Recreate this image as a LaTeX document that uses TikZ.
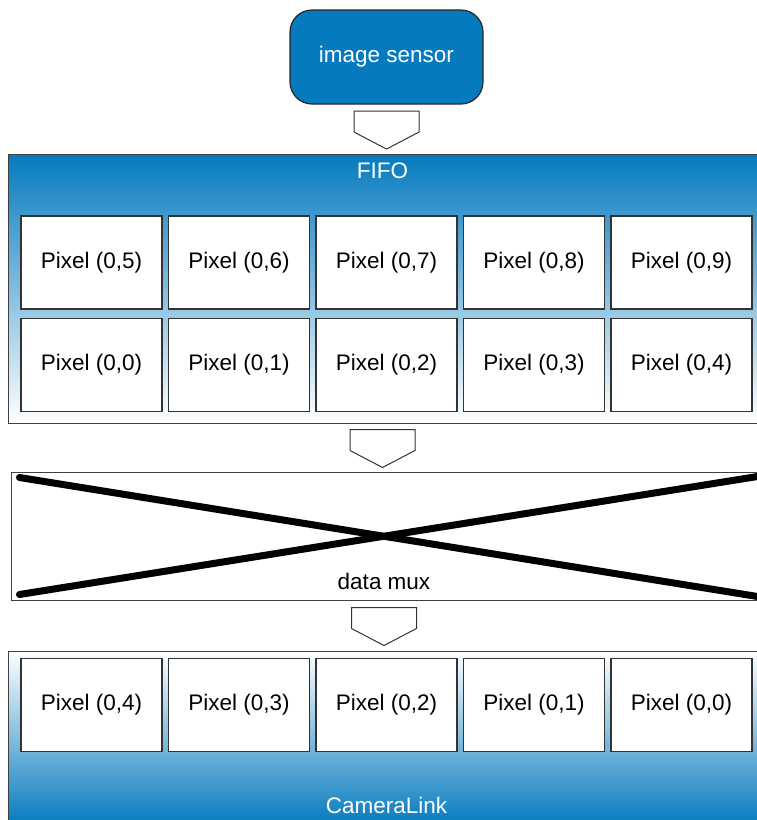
\documentclass[tikz,border=0pt]{standalone}
\usepackage{fontspec}
\setmainfont{Liberation Sans}
\usetikzlibrary{positioning, calc}
\definecolor{sensorblue}{RGB}{5,122,190}
\tikzset{sensor/.style={draw=black!85, line width=1.2pt, fill=sensorblue, rounded corners=22pt,
             minimum width=193pt, minimum height=94pt, text=white},
         stage/.style={draw=black!75, line width=1pt, inner sep=0pt},
         pixel/.style={draw=black!80, line width=1.3pt, fill=white, inner sep=0pt,
             minimum width=141pt, minimum height=93pt},
         label/.style={inner sep=0pt},
         muxline/.style={line width=7pt, line cap=round},
         feed/.pic={\draw[draw=black!80, line width=1pt, fill=white]
             (-32.5,-18) -- (32.5,-18) -- (32.5,3) -- (0,20) -- (-32.5,3) -- cycle;}}
\begin{document}
\begin{tikzpicture}[x=1pt, y=-1pt, font=\fontsize{22.5}{26}\selectfont]
    \useasboundingbox (0,0) rectangle (757,820);

    % source
    \node[sensor] (sensor) at (386.5,57) {image sensor};

    % FIFO buffer
    \node[stage, top color=sensorblue, bottom color=white, minimum width=749pt, minimum height=269pt]
        (fifo) at (382.5,288.5) {};
    \node[label, text=white] (fifolabel) at ([yshift=-17pt]fifo.north) {FIFO};
    \foreach \i in {0,...,4} {
        \pgfmathtruncatemacro{\hi}{\i+5}
        \node[pixel] (top\i) at (91.5+147.5*\i,262.5) {Pixel (0,\hi)};
        \node[pixel] (bot\i) at (91.5+147.5*\i,365) {Pixel (0,\i)};
    }

    % multiplexer
    \node[stage, fill=white, minimum width=746pt, minimum height=128pt] (mux) at (384,536) {};
    \draw[muxline] ([shift={(9pt,-6pt)}]mux.north west) -- ([yshift=4pt]mux.south east);
    \draw[muxline] ([shift={(9pt,6pt)}]mux.south west) -- ([yshift=-5pt]mux.north east);
    \node[label] (muxlabel) at ([yshift=19pt]mux.south) {data mux};

    % output
    \node[stage, top color=white, bottom color=sensorblue, minimum width=749pt, minimum height=174pt]
        (camlink) at (382.5,738) {};
    \foreach \i in {0,...,4} {
        \pgfmathtruncatemacro{\oi}{4-\i}
        \node[pixel] (out\i) at (91.5+147.5*\i,705) {Pixel (0,\oi)};
    }
    \node[label, text=white] (camlabel) at (386.5,805) {CameraLink};

    % flow arrows
    \pic at ($(sensor.south)!0.5!(sensor.south |- fifo.north)$) {feed};
    \pic at ($(fifo.south)!0.5!(fifo.south |- mux.north)$) {feed};
    \pic at ($(mux.south)!0.5!(mux.south |- camlink.north)$) {feed};
\end{tikzpicture}
\end{document}
